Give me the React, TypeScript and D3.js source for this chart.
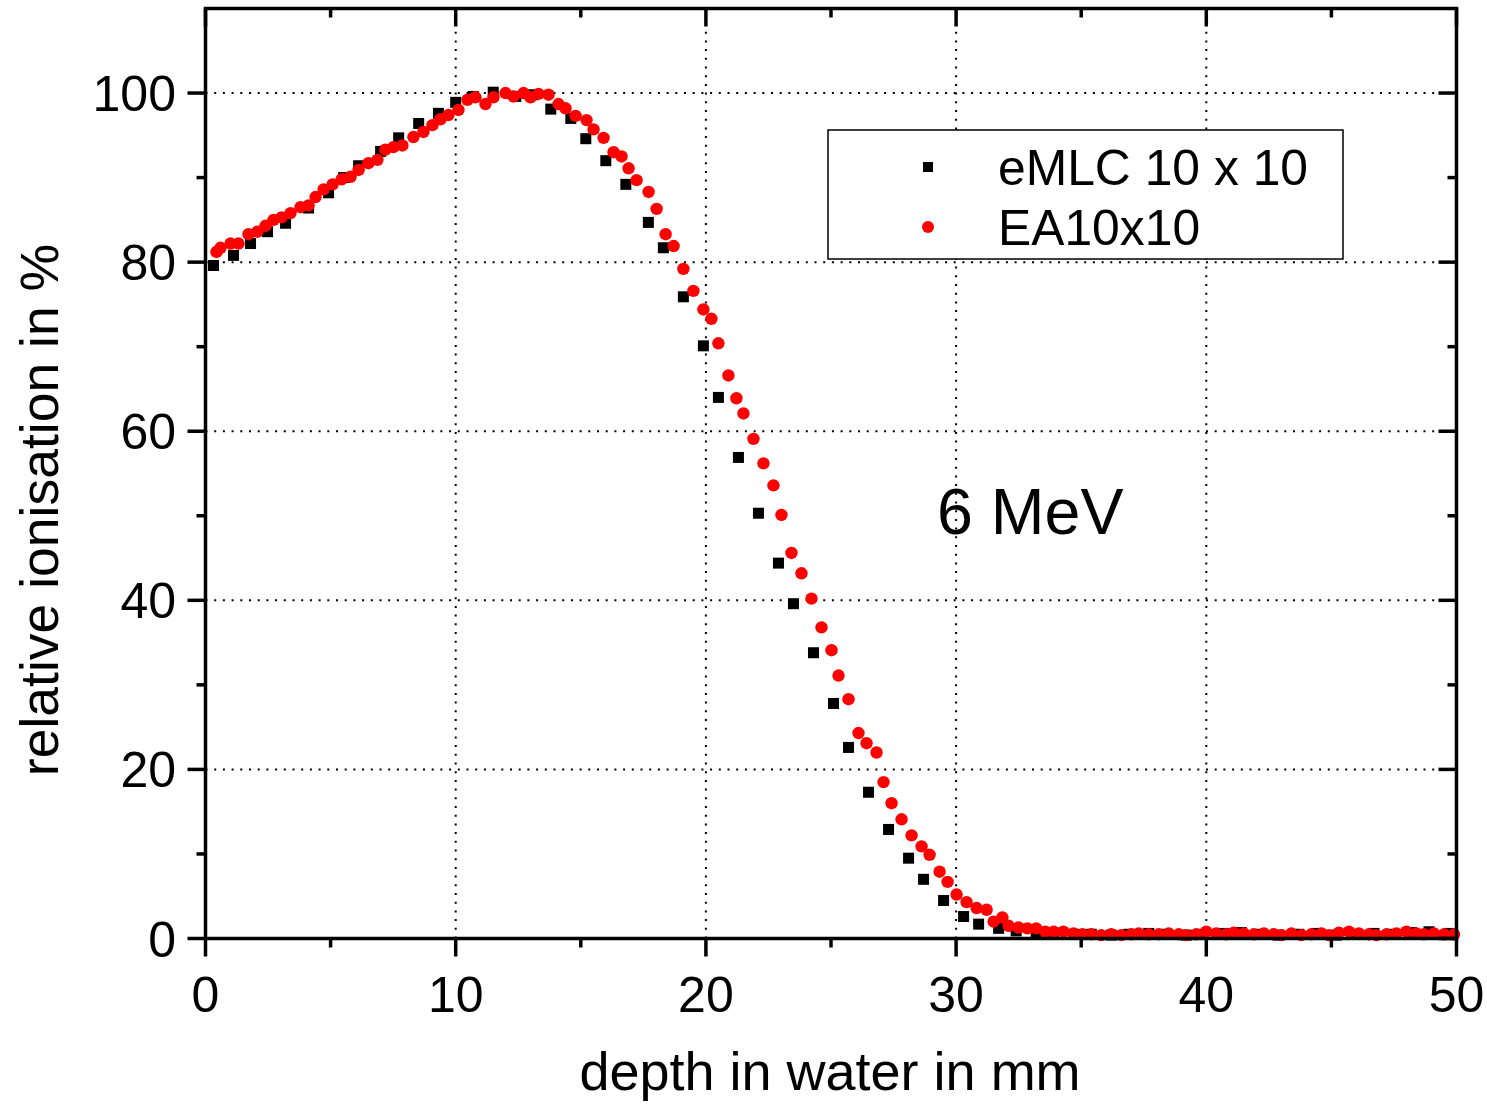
import React from "react";
import * as d3 from "d3";

// eMLC 10 x 10 (black squares)
const emlcDepth = [
  0.32, 1.12, 1.8, 2.48, 3.2, 4.12, 4.92, 5.52, 6.12, 7.0, 7.72, 8.52, 9.31, 10.0, 10.7,
  11.5, 12.4, 13.1, 13.8, 14.6, 15.2, 16.0, 16.8, 17.7, 18.3, 19.1, 19.9, 20.5, 21.3,
  22.1, 22.9, 23.5, 24.3, 25.1, 25.7, 26.5, 27.3, 28.1, 28.7, 29.5, 30.3, 30.9, 31.7,
  32.4, 33.2, 33.9, 34.7, 35.4, 36.2, 36.9, 37.7, 38.4, 39.2, 39.9, 40.7, 41.4, 42.2,
  42.9, 43.7, 44.4, 45.2, 45.9, 46.7, 47.4, 48.2, 48.9, 49.7,
];
const emlcValue = [
  79.6, 80.8, 82.2, 83.6, 84.6, 86.4, 88.2, 90.0, 91.4, 93.1, 94.7, 96.4, 97.6, 98.9, 99.6,
  100.1, 99.6, 99.8, 98.1, 97.0, 94.6, 92.0, 89.2, 84.7, 81.7, 75.9, 70.1, 64.0, 56.9,
  50.3, 44.4, 39.6, 33.8, 27.8, 22.6, 17.3, 12.9, 9.5, 7.0, 4.5, 2.6, 1.7, 1.2,
  0.9, 0.7, 0.6, 0.5, 0.5, 0.4, 0.5, 0.6, 0.5, 0.4, 0.5, 0.6, 0.7, 0.5,
  0.4, 0.5, 0.6, 0.4, 0.5, 0.6, 0.5, 0.7, 0.8, 0.6,
];

// EA10x10 (red circles)
const eaDepth = [
  0.44, 0.6, 1.0, 1.32, 1.72, 2.08, 2.4, 2.72, 3.04, 3.4, 3.8, 4.12, 4.4, 4.72, 5.08, 5.44,
  5.8, 6.12, 6.51, 6.87, 7.19, 7.51, 7.87, 8.31, 8.71, 9.07, 9.39, 9.71, 10.11, 10.47,
  10.79, 11.19, 11.51, 11.99, 12.31, 12.71, 12.99, 13.31, 13.71, 14.11, 14.39, 14.79,
  15.23, 15.51, 15.91, 16.31, 16.63, 16.91, 17.23, 17.71, 18.03, 18.39, 18.71, 19.1,
  19.5, 19.9, 20.22, 20.5, 20.9, 21.22, 21.5, 21.9, 22.3, 22.7, 23.02, 23.42, 23.82,
  24.22, 24.62, 25.02, 25.3, 25.7, 26.1, 26.42, 26.82, 27.1, 27.42, 27.82, 28.22, 28.62,
  28.94, 29.34, 29.66, 30.02, 30.42, 30.82, 31.22, 31.5, 31.85, 32.1, 32.5, 32.85, 33.2,
  33.57, 33.9, 34.29, 34.69, 35.05, 35.4, 35.8, 36.2, 36.6, 37.0, 37.3, 37.7, 38.1, 38.5,
  38.9, 39.2, 39.6, 40.0, 40.4, 40.8, 41.1, 41.5, 41.9, 42.3, 42.7, 43.0, 43.4, 43.8,
  44.2, 44.6, 44.9, 45.3, 45.7, 46.1, 46.5, 46.8, 47.2, 47.6, 48.0, 48.4, 48.7, 49.1,
  49.5, 49.9,
];
const eaValue = [
  81.2, 81.7, 82.2, 82.2, 83.3, 83.6, 84.3, 85.0, 85.3, 85.8, 86.5, 86.7, 87.7, 88.6, 89.2, 89.8,
  90.1, 90.9, 91.7, 92.1, 93.3, 93.6, 93.8, 94.8, 95.4, 96.2, 96.9, 97.4, 98.0, 99.2,
  99.5, 98.7, 99.5, 100.0, 99.6, 100.0, 99.5, 99.9, 99.8, 98.7, 98.2, 97.3,
  96.8, 95.7, 94.7, 93.0, 92.5, 91.1, 89.7, 88.3, 86.3, 83.3, 81.9, 79.2,
  76.6, 74.4, 73.3, 70.4, 66.6, 63.9, 62.1, 59.1, 56.2, 53.6, 50.1, 45.6, 43.2,
  40.2, 36.8, 34.1, 31.1, 28.3, 24.3, 23.1, 22.0, 18.5, 16.0, 14.1, 12.2, 10.9,
  9.9, 7.9, 6.7, 5.2, 4.3, 3.6, 3.4, 2.0, 2.5, 1.5, 1.3, 1.2, 1.2,
  0.8, 0.8, 0.8, 0.6, 0.5, 0.5, 0.4, 0.5, 0.4, 0.5, 0.6, 0.5, 0.5, 0.6,
  0.5, 0.4, 0.5, 0.8, 0.6, 0.5, 0.7, 0.6, 0.5, 0.6, 0.5, 0.4, 0.6, 0.4,
  0.5, 0.6, 0.4, 0.7, 0.8, 0.6, 0.5, 0.4, 0.5, 0.6, 0.8, 0.6, 0.5, 0.6,
  0.5, 0.5,
];

const xTicks = [0, 10, 20, 30, 40, 50];
const xMinorTicks = [5, 15, 25, 35, 45];
const yTicks = [0, 20, 40, 60, 80, 100];
const yMinorTicks = [10, 30, 50, 70, 90];
const xGrid = [10, 20, 30, 40];
const yGrid = [20, 40, 60, 80, 100];

const seriesNames = ["eMLC 10 x 10", "EA10x10"];
const xTitle = "depth in water in mm";
const yTitle = "relative ionisation in %";
const annotation = "6 MeV";

const W = 1487;
const H = 1105;
const M = { left: 205.5, right: 1456.5, top: 8.5, bottom: 938.5 };
const FONT = "'Liberation Sans', Arial, Helvetica, sans-serif";

export default function App() {
  const x = d3.scaleLinear().domain([0, 50]).range([M.left, M.right]);
  const y = d3.scaleLinear().domain([0, 110]).range([M.bottom, M.top]);

  const emlc = emlcDepth.map((d, i) => [d, emlcValue[i]]);
  const ea = eaDepth.map((d, i) => [d, eaValue[i]]);

  const sq = 11;
  const r = 6.2;
  const major = 18;
  const minor = 9;
  const axisW = 3.5;

  return (
    <div style={{ position: "fixed", left: 0, top: 0, width: W, height: H, background: "#fff" }}>
      <svg width={W} height={H} style={{ display: "block" }} fontFamily={FONT}>
        <rect x={0} y={0} width={W} height={H} fill="#fff" />
        {/* grid */}
        <g stroke="#000" strokeWidth={2} strokeDasharray="2 6.7">
          {xGrid.map((t) => (
            <line key={"gx" + t} x1={x(t)} x2={x(t)} y1={M.bottom} y2={M.top} />
          ))}
          {yGrid.map((t) => (
            <line key={"gy" + t} x1={M.left} x2={M.right} y1={y(t)} y2={y(t)} />
          ))}
        </g>

        {/* eMLC squares */}
        <g fill="#000">
          {emlc.map(([d, v], i) => (
            <rect key={"s" + i} x={x(d) - sq / 2} y={y(v) - sq / 2} width={sq} height={sq} />
          ))}
        </g>
        {/* EA circles */}
        <g fill="#ff0000">
          {ea.map(([d, v], i) => (
            <circle key={"c" + i} cx={x(d)} cy={y(v)} r={r} />
          ))}
        </g>

        {/* frame */}
        <rect x={M.left} y={M.top} width={M.right - M.left} height={M.bottom - M.top} fill="none" stroke="#000" strokeWidth={axisW} />

        {/* ticks */}
        <g stroke="#000" strokeWidth={axisW}>
          {xTicks.map((t) => (
            <g key={"xt" + t}>
              <line x1={x(t)} x2={x(t)} y1={M.bottom} y2={M.bottom + major} />
              <line x1={x(t)} x2={x(t)} y1={M.top} y2={M.top + major} />
            </g>
          ))}
          {xMinorTicks.map((t) => (
            <g key={"xm" + t}>
              <line x1={x(t)} x2={x(t)} y1={M.bottom} y2={M.bottom + minor} />
              <line x1={x(t)} x2={x(t)} y1={M.top} y2={M.top + minor} />
            </g>
          ))}
          {yTicks.map((t) => (
            <g key={"yt" + t}>
              <line x1={M.left - major} x2={M.left} y1={y(t)} y2={y(t)} />
              <line x1={M.right - major} x2={M.right} y1={y(t)} y2={y(t)} />
            </g>
          ))}
          {yMinorTicks.map((t) => (
            <g key={"ym" + t}>
              <line x1={M.left - minor} x2={M.left} y1={y(t)} y2={y(t)} />
              <line x1={M.right - minor} x2={M.right} y1={y(t)} y2={y(t)} />
            </g>
          ))}
        </g>

        {/* tick labels */}
        <g fontSize={50} fill="#000">
          {xTicks.map((t) => (
            <text key={"xl" + t} x={x(t)} y={1012} textAnchor="middle">
              {t}
            </text>
          ))}
          {yTicks.map((t) => (
            <text key={"yl" + t} x={176} y={y(t) + 18} textAnchor="end">
              {t}
            </text>
          ))}
        </g>

        {/* axis titles */}
        <text x={830} y={1090} textAnchor="middle" fontSize={54}>
          {xTitle}
        </text>
        <text transform={`translate(58, 510) rotate(-90)`} textAnchor="middle" fontSize={53.5}>
          {yTitle}
        </text>

        {/* annotation */}
        <text x={937} y={534} fontSize={64.5}>
          {annotation}
        </text>

        {/* legend */}
        <rect x={828} y={130} width={515} height={129} fill="#fff" stroke="#000" strokeWidth={1.5} />
        <rect x={928 - 5} y={167 - 5} width={10} height={10} fill="#000" />
        <circle cx={928} cy={227} r={6} fill="#ff0000" />
        <text x={998} y={185} fontSize={49.8}>
          {seriesNames[0]}
        </text>
        <text x={998} y={245} fontSize={49.8}>
          {seriesNames[1]}
        </text>
      </svg>
    </div>
  );
}
